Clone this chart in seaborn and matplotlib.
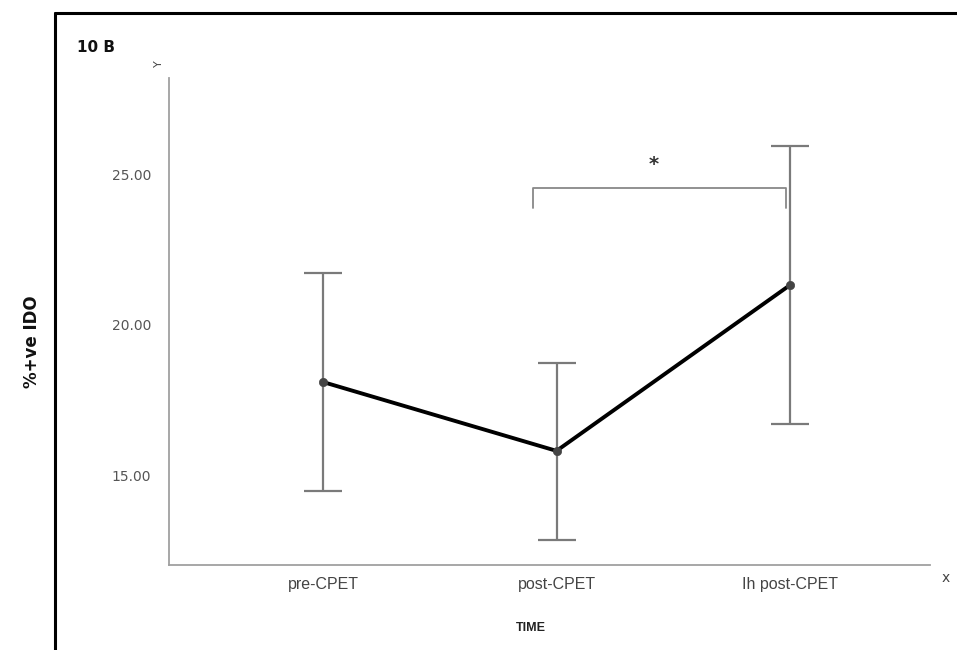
import matplotlib
matplotlib.use("Agg")
import matplotlib.pyplot as plt
import seaborn as sns
import pandas as pd

# Mean %+ve IDO at each time point with the ends of the error bars
time_points = ["pre-CPET", "post-CPET", "Ih post-CPET"]
mean_ido = [18.11, 15.83, 21.32]
upper_ido = [21.72, 18.74, 25.93]
lower_ido = [14.50, 12.88, 16.72]
y_ticks = [15.00, 20.00, 25.00]
# Significance bracket between post-CPET and 1h post-CPET
bracket_from, bracket_to = 1, 2
bracket_level = 24.54
bracket_drop = 0.67

sns.set_theme(style="white")
plt.rcParams["font.family"] = ["DejaVu Sans"]

fig = plt.figure(figsize=(9.57, 6.5), dpi=100)
ax = fig.add_axes([169 / 957, 85 / 650, (930 - 169) / 957, (565 - 78) / 650])

df = pd.DataFrame({"time": time_points, "ido": mean_ido})
err_lo = [m - l for m, l in zip(mean_ido, lower_ido)]
err_hi = [u - m for m, u in zip(mean_ido, upper_ido)]

ax.errorbar(range(len(time_points)), mean_ido, yerr=[err_lo, err_hi],
            fmt="none", ecolor="#7a7a7a", elinewidth=1.6, capsize=14,
            capthick=1.6, zorder=2)
sns.lineplot(data=df, x="time", y="ido", ax=ax, color="black", linewidth=2.8,
             sort=False, zorder=3)
sns.scatterplot(data=df, x="time", y="ido", ax=ax, color="#444444", s=36,
                edgecolor="#444444", zorder=4)

ax.set_xlim(-0.66, 2.6)
ax.set_ylim(12.05, 28.18)
ax.set_yticks(y_ticks)
ax.set_yticklabels([f"{v:.2f}" for v in y_ticks], color="#555555", fontsize=10)
ax.set_xticks(range(len(time_points)))
ax.set_xticklabels(time_points, color="#444444", fontsize=11.5,
                   family="Liberation Sans")
ax.tick_params(axis="both", length=0)
ax.tick_params(axis="x", pad=9)
ax.tick_params(axis="y", pad=13)

for side in ("top", "right"):
    ax.spines[side].set_visible(False)
for side in ("left", "bottom"):
    ax.spines[side].set_color("#a0a0a0")
    ax.spines[side].set_linewidth(1.3)

ax.set_xlabel("TIME", fontsize=9, fontweight="bold", family="Liberation Sans",
              color="#222222")
ax.set_ylabel("%+ve IDO", fontsize=12, fontweight="bold", color="#111111")
ax.xaxis.set_label_coords(0.476, -0.117)
ax.yaxis.set_label_coords(-0.168, 0.458)

# Significance bracket
ax.plot([bracket_from - 0.1, bracket_from - 0.1, bracket_to - 0.015, bracket_to - 0.015],
        [bracket_level - bracket_drop, bracket_level, bracket_level,
         bracket_level - bracket_drop], color="#888888", linewidth=1.3, zorder=2)
ax.text((bracket_from - 0.1 + bracket_to) / 2 - 0.035, bracket_level + 0.45, "*",
        ha="center", va="bottom", fontsize=14, fontweight="bold", color="#333333")

# Axis end markers
fig.text(159 / 957, 1 - 64 / 650, "Y", rotation=90, ha="center", va="center",
         fontsize=8, color="#444444")
fig.text(946 / 957, 1 - 578 / 650, "x", ha="center", va="center",
         fontsize=10, color="#444444")
fig.text(96 / 957, 1 - 47 / 650, "10 B", ha="center", va="center",
         fontsize=11, fontweight="bold", color="#111111")

# Panel frame (top and left edges)
fig.add_artist(plt.Line2D([55 / 957, 1.0], [1 - 13 / 650, 1 - 13 / 650],
                          transform=fig.transFigure, color="black", linewidth=2.2))
fig.add_artist(plt.Line2D([55 / 957, 55 / 957], [0.0, 1 - 13 / 650],
                          transform=fig.transFigure, color="black", linewidth=2.2))

fig.savefig("out.png", dpi=100, facecolor="white")
